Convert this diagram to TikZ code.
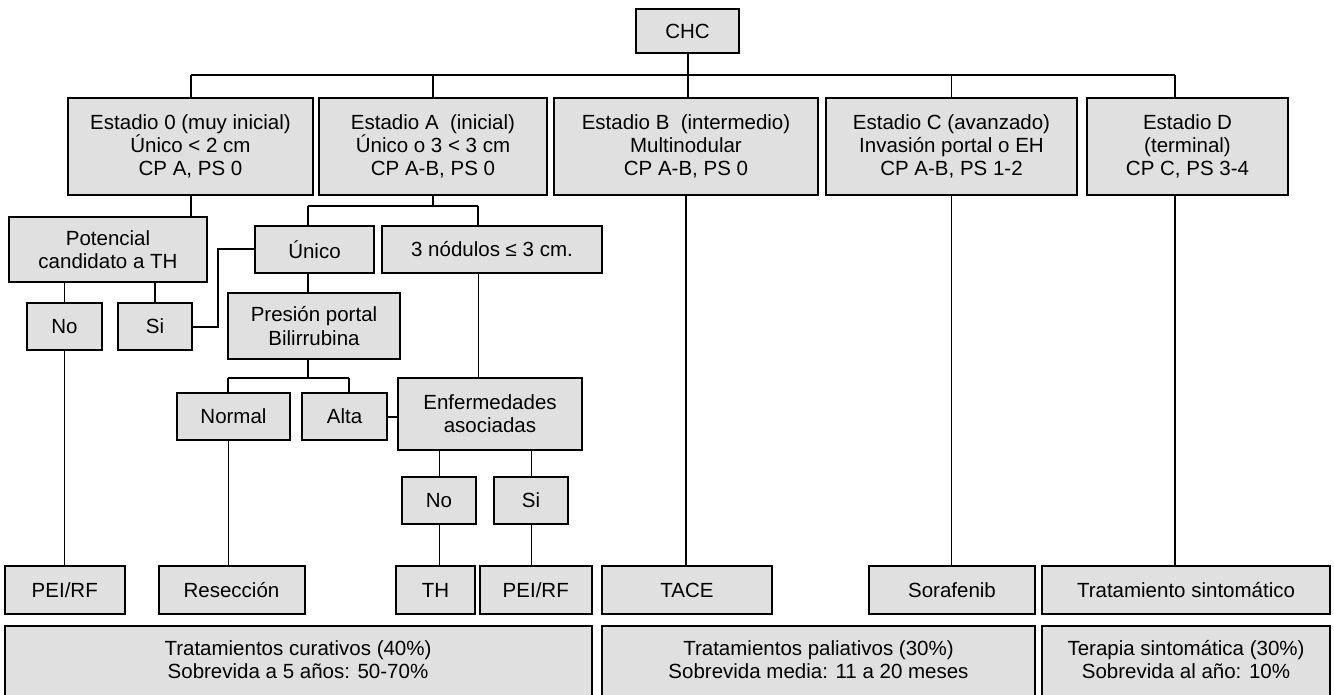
\documentclass[tikz,border=0pt]{standalone}
\usepackage{fontspec}
\setmainfont{Liberation Sans}
\definecolor{gris}{RGB}{224,224,224}
\tikzset{
    caja/.style={draw, fill=gris, line width=2pt, align=center, inner sep=0pt, minimum height=47}, % cajas del esquema
    estadio/.style={caja, minimum height=97}, % cajas de los estadios
    trat/.style={caja, minimum height=48}, % cajas de tratamiento
    resumen/.style={caja, anchor=north, minimum height=150}, % cajas de resumen
    texto/.style={align=center}, % texto de las cajas de resumen
    linea/.style={line width=2pt}, % conector grueso
    fina/.style={line width=1pt} % conector fino
}
\begin{document}
\begin{tikzpicture}[x=1pt, y=-1pt, font=\fontsize{20.5}{23.3}\selectfont]
    \useasboundingbox (0,0) rectangle (1334,695);

    \node[caja, minimum width=103, minimum height=44] (chc) at (687.5,31) {CHC};

    % estadios
    \node[estadio, minimum width=245] (e0) at (190.5,146.5) {Estadio 0 (muy inicial)\\Único < 2 cm\\CP A, PS 0};
    \node[estadio, minimum width=228] (eA) at (433,146.5) {Estadio A~~(inicial)\\Único o 3 < 3 cm\\CP A-B, PS 0};
    \node[estadio, minimum width=264] (eB) at (686,146.5) {Estadio B~~(intermedio)\\Multinodular\\CP A-B, PS 0};
    \node[estadio, minimum width=251] (eC) at (951.5,146.5) {Estadio C (avanzado)\\Invasión portal o EH\\CP A-B, PS 1-2};
    \node[estadio, minimum width=201] (eD) at (1187.5,146.5) {Estadio D\\(terminal)\\CP C, PS 3-4};

    \node[caja, minimum width=198, minimum height=65] (pot) at (108,249.5) {Potencial\\candidato a TH};
    \node[caja, minimum width=119] (unico) at (314.5,249.5) {Único};
    \node[caja, minimum width=220] (nod) at (492,249.5) {3 nódulos ≤ 3 cm.};
    \node[caja, minimum width=75] (no1) at (64.5,326.5) {No};
    \node[caja, minimum width=74] (si1) at (155,326.5) {Si};
    \node[caja, minimum width=172, minimum height=66] (pres) at (314,326) {Presión portal\\Bilirrubina};
    \node[caja, minimum width=113] (normal) at (233.5,416.5) {Normal};
    \node[caja, minimum width=85] (alta) at (344.5,416.5) {Alta};
    \node[caja, minimum width=184, minimum height=72] (enf) at (490,414) {Enfermedades\\asociadas};
    \node[caja, minimum width=74] (no2) at (439,500.5) {No};
    \node[caja, minimum width=74] (si2) at (531,500.5) {Si};

    % tratamientos
    \node[trat, minimum width=120.5] (pei1) at (64.75,590) {PEI/RF};
    \node[trat, minimum width=146] (resec) at (231.5,590) {Resección};
    \node[trat, minimum width=79] (th) at (435.5,590) {TH};
    \node[trat, minimum width=111.5] (pei2) at (535.75,590) {PEI/RF};
    \node[trat, minimum width=170] (tace) at (687,590) {TACE};
    \node[trat, minimum width=166] (sora) at (952,590) {Sorafenib};
    \node[trat, minimum width=288] (tsin) at (1186,590) {Tratamiento sintomático};

    % resumen
    \node[resumen, minimum width=587] (cur) at (298,625) {};
    \node[resumen, minimum width=433] (pal) at (818.5,625) {};
    \node[resumen, minimum width=288] (ter) at (1186,625) {};
    \node[texto] (curT) at (298,659.5) {Tratamientos curativos (40\%)\\Sobrevida a 5 años: 50-70\%};
    \node[texto] (palT) at (818.5,659.5) {Tratamientos paliativos (30\%)\\Sobrevida media: 11 a 20 meses};
    \node[texto] (terT) at (1186,659.5) {Terapia sintomática (30\%)\\Sobrevida al año: 10\%};

    % conectores
    \coordinate (busI) at (190.5,75);
    \coordinate (busD) at (1175,75);
    \coordinate (bA1) at (308,206);
    \coordinate (bA2) at (478,206);
    \coordinate (bP1) at (228,378);
    \coordinate (bP2) at (349,378);

    \draw[linea] (busI) -- (busD);
    \draw[linea] (chc.south) -- (chc.south |- eB.north);
    \draw[linea] (busI) -- (e0.north);
    \draw[linea] (eA.north |- busI) -- (eA.north);
    \draw[fina] (eC.north |- busI) -- (eC.north);
    \draw[linea] (busD) -- (busD |- eD.north);

    \draw[linea] (e0.south) -- (e0.south |- pot.north);
    \draw[fina] (no1.north |- pot.south) -- (no1.north);
    \draw[linea] (si1.north |- pot.south) -- (si1.north);
    \draw[fina] (no1.south) -- (no1.south |- pei1.north);
    \draw[linea] (si1.east) -- ++(25,0) |- (unico.west);

    \draw[linea] (eA.south) -- (eA.south |- bA1);
    \draw[linea] (bA1) -- (bA2);
    \draw[linea] (bA1) -- (bA1 |- unico.north);
    \draw[linea] (bA2) -- (bA2 |- nod.north);
    \draw[linea] (bA1 |- unico.south) -- (bA1 |- pres.north);
    \draw[fina] (bA2 |- nod.south) -- (bA2 |- enf.north);

    \draw[linea] (bA1 |- pres.south) -- (bA1 |- bP1);
    \draw[linea] (bP1) -- (bP2);
    \draw[linea] (bP1) -- (bP1 |- normal.north);
    \draw[linea] (bP2) -- (bP2 |- alta.north);
    \draw[fina] (bP1 |- normal.south) -- (bP1 |- resec.north);
    \draw[linea] (alta.east) -- (alta.east -| enf.west);

    \draw[fina] (no2.north |- enf.south) -- (no2.north);
    \draw[fina] (si2.north |- enf.south) -- (si2.north);
    \draw[fina] (no2.south) -- (no2.south |- th.north);
    \draw[fina] (si2.south) -- (si2.south |- pei2.north);

    \draw[linea] (eB.south) -- (eB.south |- tace.north);
    \draw[fina] (eC.south) -- (eC.south |- sora.north);
    \draw[linea] (busD |- eD.south) -- (busD |- tsin.north);
\end{tikzpicture}
\end{document}
